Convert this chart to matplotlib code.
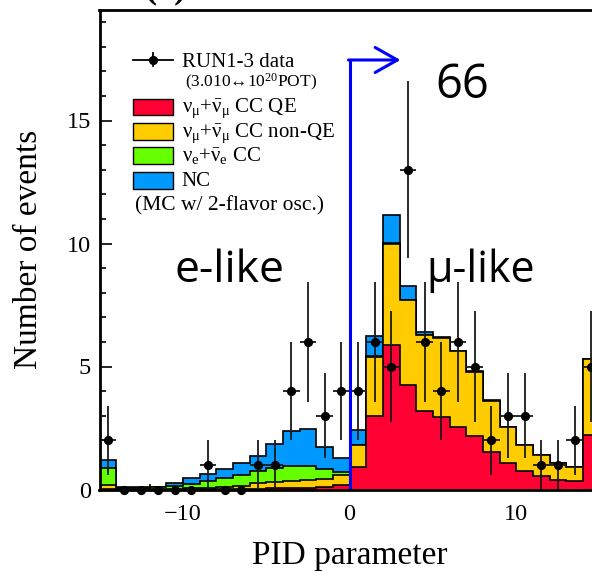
import matplotlib as mpl
import matplotlib.pyplot as plt
import numpy as np
from matplotlib.lines import Line2D
from matplotlib.patches import Rectangle

# -- data (30 bins of unit width, -15 .. 15) ---------------------------------
edges = np.arange(-15, 16, 1)

mc_ccqe = [0.03, 0.00, 0.00, 0.00, 0.00, 0.01, 0.01, 0.01, 0.02, 0.03,
           0.05, 0.06, 0.08, 0.11, 0.20,
           0.90, 3.00, 5.87, 4.25, 3.19, 2.96, 2.55, 2.17, 1.54, 1.06,
           0.74, 0.55, 0.40, 0.35, 2.20]
mc_ccnqe = [0.15, 0.02, 0.02, 0.02, 0.03, 0.04, 0.06, 0.08, 0.12, 0.22,
            0.27, 0.30, 0.32, 0.30, 0.40,
            0.90, 2.40, 4.13, 3.45, 3.09, 3.21, 3.08, 2.62, 2.07, 1.49,
            1.07, 0.85, 0.69, 0.58, 3.09]
mc_nue = [0.71, 0.06, 0.06, 0.07, 0.11, 0.17, 0.28, 0.38, 0.46, 0.50,
          0.56, 0.61, 0.55, 0.41, 0.10,
          0.02, 0.02, 0.03, 0.02, 0.01, 0.00, 0.00, 0.00, 0.00, 0.00,
          0.00, 0.00, 0.00, 0.00, 0.00]
mc_nc = [0.31, 0.02, 0.02, 0.03, 0.14, 0.23, 0.27, 0.35, 0.48, 0.62,
         0.97, 1.42, 1.50, 0.89, 0.57,
         0.60, 0.83, 1.13, 0.56, 0.12, 0.03, 0.02, 0.01, 0.01, 0.01,
         0.00, 0.00, 0.00, 0.00, 0.00]
data_counts = [2, 0, 0, 0, 0, 0, 1, 0, 0, 1, 1, 4, 6, 3, 4,
               4, 6, 5, 13, 6, 4, 6, 5, 2, 3, 3, 1, 1, 2, 5]

pid_cut = 0.0
arrow_y = 17.46
arrow_len = 3.06

col_ccqe = "#ff0033"
col_ccnqe = "#ffcc00"
col_nue = "#66ff00"
col_nc = "#0099ff"

# -- style -------------------------------------------------------------------
mpl.rcParams.update({
    "font.family": "serif",
    "font.serif": ["Liberation Serif", "DejaVu Serif"],
    "mathtext.fontset": "stix",
    "mathtext.default": "regular",
})

W, H = 592, 572
fig = plt.figure(figsize=(W / 100, H / 100), dpi=100)
ax = fig.add_axes([99.5 / W, 1 - 489.5 / H, 500 / W, 479.7 / H])

# stacked histogram (ROOT style: cumulative sums drawn back to front)
r = np.array(mc_ccqe)
y = r + np.array(mc_ccnqe)
g = y + np.array(mc_nue)
b = g + np.array(mc_nc)
for top, col in [(b, col_nc), (g, col_nue), (y, col_ccnqe), (r, col_ccqe)]:
    ax.stairs(top, edges, fill=True, facecolor=col, edgecolor="black",
              linewidth=1.2, zorder=2)

# data points
centers = 0.5 * (edges[:-1] + edges[1:])
counts = np.array(data_counts, dtype=float)
eb = ax.errorbar(centers, counts, xerr=0.5, yerr=np.sqrt(counts), fmt="o",
                 ms=5.6, color="black", ecolor="#1a1a1a", elinewidth=1.3,
                 capsize=0, zorder=5)
eb[0].set_clip_on(False)

# selection cut + arrow
ax.plot([pid_cut, pid_cut], [0, arrow_y], color="#0000ff", lw=2.2,
        solid_capstyle="butt", zorder=6)
ax.annotate("", xy=(pid_cut + arrow_len, arrow_y), xytext=(pid_cut - 0.06, arrow_y),
            arrowprops=dict(arrowstyle="->,head_length=0.8,head_width=0.45",
                            color="#0000ff", lw=2.2, mutation_scale=20,
                            shrinkA=0, shrinkB=0), zorder=6)

sans = ["Open Sans", "DejaVu Sans"]
ax.text(-10.5, 8.45, "e-like", family=sans, fontsize=32, ha="left",
        va="baseline")
ax.text(4.62, 8.45, "\u03bc-like", family=sans, fontsize=31, ha="left",
        va="baseline")
ax.text(5.15, 15.91, "66", family=sans, fontsize=34, ha="left",
        va="baseline")

# axes
ax.set_xlim(-15, 15)
ax.set_ylim(0, 19.5)
ax.set_xticks([-10, 0, 10])
ax.set_xticks(np.arange(-14, 15, 2), minor=True)
ax.set_yticks([0, 5, 10, 15])
ax.set_yticks(np.arange(0, 20, 1), minor=True)
ax.tick_params(which="both", direction="in", top=False, right=False,
               width=1.2, labelsize=17.5)
ax.tick_params(which="major", length=8.6)
ax.tick_params(which="minor", length=4.3)
ax.tick_params(axis="x", pad=10.5)
ax.tick_params(axis="y", pad=6)
for s in ax.spines.values():
    s.set_linewidth(2.0)
    s.set_zorder(7)
ax.spines["right"].set_visible(False)

ax.set_xlabel("PID parameter", fontsize=24)
ax.set_ylabel("Number of events", fontsize=24)
ax.xaxis.set_label_coords(0.5, -0.106)
ax.yaxis.set_label_coords(-0.111, 0.5)

# panel tag, mostly above the top edge as in the cropped original
fig.text(166 / W, 1 + 3 / H, "(a)", ha="center", va="baseline",
         fontsize=26, fontweight="bold")


# -- legend (drawn by hand in pixel positions) -------------------------------
def fx(px):
    return px / W


def fy(py):
    return 1 - py / H


fig.add_artist(Line2D([fx(133), fx(173)], [fy(59.5), fy(59.5)],
                      color="black", lw=1.3))
fig.add_artist(Line2D([fx(153), fx(153)], [fy(53), fy(66)],
                      color="black", lw=1.3))
fig.add_artist(Line2D([fx(153)], [fy(59.5)], marker="o", ms=5.6,
                      color="black"))
fig.text(fx(181.7), fy(66.7), "RUN1-3 data", fontsize=15, va="baseline")
fig.text(fx(185), fy(87.5), "(3.010\u219410$^{20}$POT)", fontsize=12.5,
         va="baseline")

entries = [
    (col_ccqe, r"$\nu_{\mu}$+$\bar{\nu}_{\mu}$ CC QE"),
    (col_ccnqe, r"$\nu_{\mu}$+$\bar{\nu}_{\mu}$ CC non-QE"),
    (col_nue, r"$\nu_{e}$+$\bar{\nu}_{e}$ CC"),
    (col_nc, "NC"),
]
for k, (col, lab) in enumerate(entries):
    yc = 107 + 24.4 * k
    fig.add_artist(Rectangle((fx(132.7), fy(yc + 8.3)), 40 / W, 16.7 / H,
                             facecolor=col, edgecolor="black", lw=1.0,
                             transform=fig.transFigure))
    fig.text(fx(181.7), fy(yc + 5.5), lab, fontsize=15, va="baseline")
fig.text(fx(135), fy(210), "(MC w/ 2-flavor osc.)", fontsize=15.5,
         va="baseline")

fig.savefig("out.png", dpi=100)
